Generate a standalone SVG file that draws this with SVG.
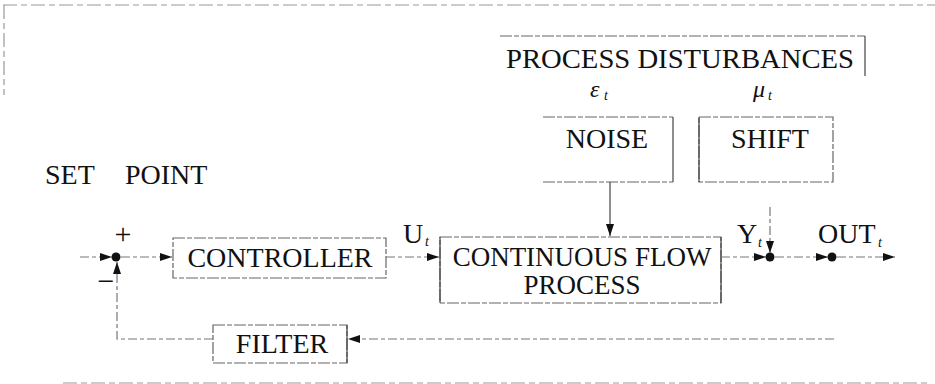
<svg xmlns="http://www.w3.org/2000/svg" width="935" height="384" viewBox="0 0 935 384">
<style>
.t{font-family:"Liberation Serif","Times New Roman",serif;fill:#111;}
.lbl{font-size:28px;}
.sub{font-size:14px;font-style:italic;}
.gk{font-size:24px;font-style:italic;}
.box{fill:none;stroke:#666;stroke-width:1.2;stroke-dasharray:12 2 5 2;}
.solid{fill:none;stroke:#444;stroke-width:1.2;}
.ln{fill:none;stroke:#777;stroke-width:1.2;stroke-dasharray:9 3 4 3;}
.frame{fill:none;stroke:#999;stroke-width:1.2;stroke-dasharray:14 4 6 4;}
.dot{fill:#111;}
</style>
<defs>
<marker id="ah" markerWidth="13" markerHeight="9" refX="12" refY="4.5" orient="auto" markerUnits="userSpaceOnUse">
<path d="M0,0.5 L12,4.5 L0,8.5 Z" fill="#111"/>
</marker>
</defs>

<g id="frame">
<line class="frame" x1="3" y1="5" x2="935" y2="5"/>
<line class="frame" x1="4" y1="5" x2="4" y2="95"/>
<line class="frame" x1="63" y1="383" x2="930" y2="383"/>
</g>

<g id="disturbances">
<line class="box" x1="500" y1="36" x2="865" y2="36"/>
<line class="solid" x1="865" y1="36" x2="865" y2="76"/>
<text class="t" x="506" y="68" font-size="27" textLength="348" lengthAdjust="spacingAndGlyphs">PROCESS DISTURBANCES</text>
</g>

<g id="eps">
<text class="t gk" x="590" y="97">ε</text><text class="t sub" x="604" y="100" font-size="13">t</text>
</g>
<g id="mu">
<text class="t gk" x="753" y="97">μ</text><text class="t sub" x="768" y="100" font-size="13">t</text>
</g>

<g id="noise">
<line class="box" x1="543" y1="117" x2="673" y2="117"/>
<line class="solid" x1="673" y1="117" x2="673" y2="182"/>
<line class="box" x1="543" y1="182" x2="673" y2="182"/>
<text class="t lbl" x="607" y="148" text-anchor="middle">NOISE</text>
</g>

<g id="shift">
<rect class="box" x="699" y="117" width="134" height="65"/>
<line class="solid" x1="699" y1="117" x2="699" y2="182"/>
<text class="t lbl" x="770" y="148" text-anchor="middle">SHIFT</text>
</g>

<g id="setpoint">
<text class="t lbl" x="45" y="184">SET</text>
<text class="t lbl" x="125" y="184">POINT</text>
</g>

<g id="sum">
<circle class="dot" cx="116" cy="257" r="4.5"/>
<text class="t" x="123" y="244" font-size="30" text-anchor="middle">+</text>
<text class="t" x="106" y="291" font-size="30" text-anchor="middle">−</text>
</g>

<g id="controller">
<rect class="box" x="173" y="238" width="213" height="40"/>
<text class="t lbl" x="280" y="267" text-anchor="middle">CONTROLLER</text>
</g>

<g id="process">
<rect class="box" x="440" y="237" width="281" height="66"/>
<line class="solid" x1="440" y1="237" x2="440" y2="303"/>
<line class="solid" x1="721" y1="237" x2="721" y2="303"/>
<text class="t" font-size="27" x="582" y="266" text-anchor="middle">CONTINUOUS FLOW</text>
<text class="t" font-size="27" x="582" y="294" text-anchor="middle">PROCESS</text>
</g>

<g id="ydot">
<circle class="dot" cx="770" cy="257" r="4.5"/>
<text class="t lbl" x="737" y="243">Y</text><text class="t sub" x="758" y="247">t</text>
</g>

<g id="outdot">
<circle class="dot" cx="832" cy="257" r="4.5"/>
<text class="t lbl" x="818" y="243">OUT</text><text class="t sub" x="878" y="247">t</text>
</g>

<g id="filter">
<rect class="box" x="213" y="325" width="134" height="38"/>
<line class="solid" x1="347" y1="325" x2="347" y2="363"/>
<text class="t lbl" x="282" y="353" text-anchor="middle">FILTER</text>
</g>

<g id="connectors">
<line class="ln" x1="80" y1="257" x2="112" y2="257" marker-end="url(#ah)"/>
<line class="ln" x1="121" y1="257" x2="172" y2="257" marker-end="url(#ah)"/>
<line class="ln" x1="386" y1="257" x2="439" y2="257" marker-end="url(#ah)"/>
<text class="t lbl" x="403" y="243">U</text><text class="t sub" x="425" y="246">t</text>
<line class="solid" x1="610" y1="182" x2="610" y2="236" marker-end="url(#ah)"/>
<line class="ln" x1="721" y1="257" x2="766" y2="257" marker-end="url(#ah)"/>
<line class="ln" x1="770" y1="207" x2="770" y2="253" marker-end="url(#ah)"/>
<line class="ln" x1="775" y1="257" x2="828" y2="257" marker-end="url(#ah)"/>
<line class="ln" x1="837" y1="257" x2="895" y2="257" marker-end="url(#ah)"/>
<line class="ln" x1="834" y1="339" x2="348" y2="339" marker-end="url(#ah)"/>
<polyline class="ln" points="213,339 117,339 117,262" marker-end="url(#ah)"/>
</g>
</svg>
